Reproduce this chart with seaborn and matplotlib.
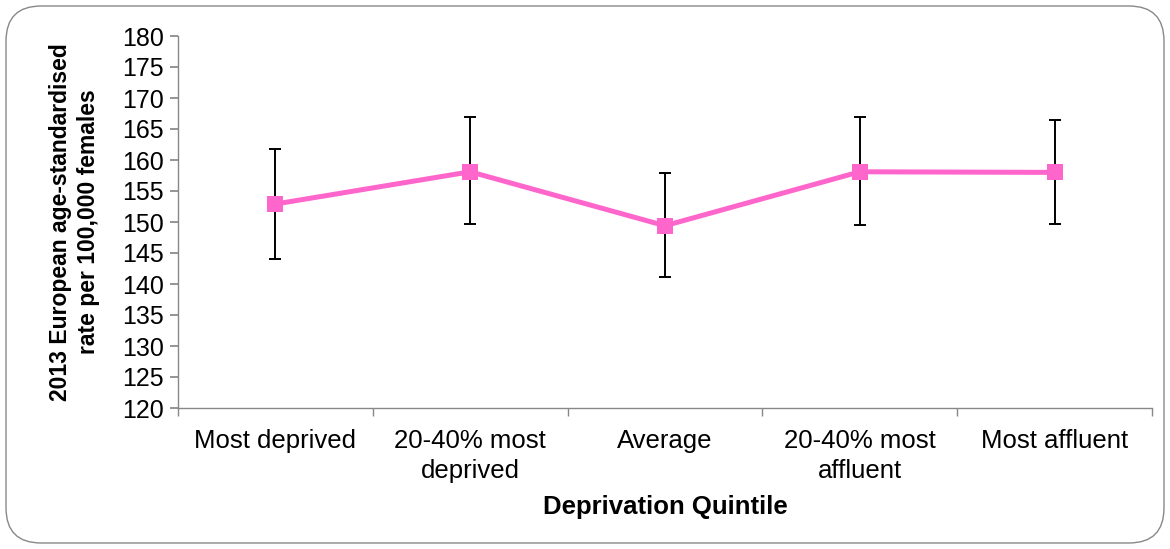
import matplotlib
matplotlib.use("Agg")
import matplotlib.pyplot as plt
from matplotlib.patches import FancyBboxPatch
import seaborn as sns
import pandas as pd
import numpy as np

categories = ["Most deprived", "20-40% most\ndeprived", "Average", "20-40% most\naffluent", "Most affluent"]
rates = [152.9, 158.1, 149.4, 158.1, 158.0]
lower_ci = [144.1, 149.6, 141.1, 149.5, 149.7]
upper_ci = [161.7, 166.9, 157.9, 166.9, 166.4]
y_ticks = list(range(120, 181, 5))

sns.set_theme(style="white")
plt.rcParams["font.family"] = ["Liberation Sans", "DejaVu Sans"]
plt.rcParams["text.color"] = "black"
plt.rcParams["axes.labelcolor"] = "black"
plt.rcParams["xtick.labelcolor"] = "black"
plt.rcParams["ytick.labelcolor"] = "black"

fig = plt.figure(figsize=(11.7, 5.49), dpi=100)
ax = fig.add_axes([178 / 1170, 1 - 408 / 549, (1152 - 178) / 1170, (408 - 36) / 549])

df = pd.DataFrame({"quintile": categories, "rate": rates})
pos = np.arange(len(categories))
sns.lineplot(data=df.assign(x=pos), x="x", y="rate", ax=ax, color="#FF66CC",
             linewidth=3.6, marker="s", markersize=11, markeredgewidth=0,
             zorder=3)

yerr = np.array([np.array(rates) - np.array(lower_ci), np.array(upper_ci) - np.array(rates)])
ax.errorbar(pos, rates, yerr=yerr, fmt="none", ecolor="black", elinewidth=1.4,
            capsize=4.5, capthick=1.4, zorder=2)

ax.set_xlim(-0.5, len(categories) - 0.5)
ax.set_ylim(120, 180)
ax.set_yticks(y_ticks)
ax.set_yticklabels([str(t) for t in y_ticks], fontsize=18)
ax.set_xticks(pos)
ax.set_xticklabels(categories, fontsize=18.5, linespacing=1.35)
ax.tick_params(axis="x", which="major", length=0, pad=15)
ax.set_xticks(np.arange(len(categories) + 1) - 0.5, minor=True)
ax.tick_params(axis="x", which="minor", length=6, color="#888888", direction="out", bottom=True)
ax.tick_params(axis="y", length=6, color="#888888", direction="out", left=True, pad=4)

for side in ["top", "right"]:
    ax.spines[side].set_visible(False)
for side in ["left", "bottom"]:
    ax.spines[side].set_color("#888888")
    ax.spines[side].set_linewidth(1.0)

ax.set_xlabel("Deprivation Quintile", fontsize=18.5, fontweight="bold", labelpad=8)
ax.set_ylabel("2013 European age-standardised\nrate per 100,000 females", fontsize=16.5,
              fontweight="bold", labelpad=16, linespacing=1.3)
ax.grid(False)

frame = FancyBboxPatch((6 / 1170, 6 / 549), 1158 / 1170, 537 / 549,
                       boxstyle="round,pad=0,rounding_size=0.03",
                       transform=fig.transFigure, facecolor="none",
                       edgecolor="#888888", linewidth=1.0, mutation_aspect=1170 / 549)
fig.patches.append(frame)

fig.savefig("out.png", dpi=100)
